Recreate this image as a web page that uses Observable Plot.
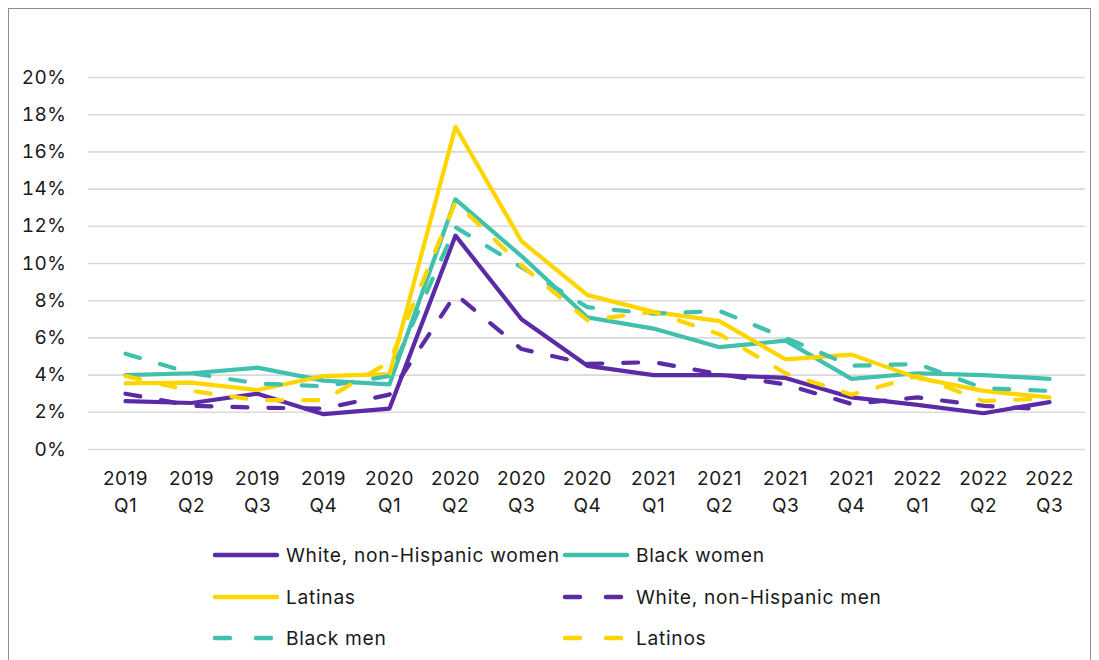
<!DOCTYPE html>
<html>
<head>
<meta charset="utf-8">
<script src="https://cdn.jsdelivr.net/npm/d3@7"></script>
<script src="https://cdn.jsdelivr.net/npm/@observablehq/plot@0.6"></script>
<style>
  html, body { margin: 0; padding: 0; background: #fff; }
  body { width: 1099px; height: 660px; position: relative; overflow: hidden; font-family: Inter, Roboto, sans-serif; }
  #frame { position: absolute; left: 8px; top: 8px; width: 1083px; height: 700px; border: 1px solid #8c8c8c; box-sizing: border-box; }
  #chart { position: absolute; left: 0; top: 0; }
  .leg { position: absolute; display: flex; align-items: center; font-size: 19.2px; letter-spacing: 0.7px; color: #1a1a1a; white-space: nowrap; }
  .leg svg { margin-right: 6px; }
</style>
</head>
<body>
<div id="frame"></div>
<div id="chart"></div>
<div id="legend"></div>
<script>
const quarters = ["2019 Q1","2019 Q2","2019 Q3","2019 Q4","2020 Q1","2020 Q2","2020 Q3","2020 Q4","2021 Q1","2021 Q2","2021 Q3","2021 Q4","2022 Q1","2022 Q2","2022 Q3"];
const whiteWomen = [2.6, 2.5, 3.0, 1.9, 2.2, 11.5, 7.0, 4.5, 4.0, 4.0, 3.85, 2.8, 2.4, 1.95, 2.55];
const blackWomen = [4.0, 4.1, 4.4, 3.7, 3.5, 13.45, 10.4, 7.1, 6.5, 5.5, 5.85, 3.8, 4.1, 4.0, 3.8];
const latinas    = [3.55, 3.6, 3.2, 3.95, 4.05, 17.35, 11.2, 8.3, 7.4, 6.9, 4.85, 5.1, 3.85, 3.15, 2.8];
const whiteMen   = [3.0, 2.35, 2.25, 2.2, 2.95, 8.35, 5.4, 4.6, 4.7, 4.05, 3.5, 2.45, 2.8, 2.35, 2.15];
const blackMen   = [5.15, 4.1, 3.55, 3.4, 3.95, 11.95, 9.8, 7.65, 7.3, 7.45, 6.0, 4.5, 4.6, 3.3, 3.15];
const latinos    = [3.95, 3.15, 2.65, 2.65, 4.7, 13.3, 9.9, 6.95, 7.4, 6.2, 4.1, 2.95, 3.95, 2.6, 2.75];
const yTicks = [0, 2, 4, 6, 8, 10, 12, 14, 16, 18, 20];

const purple = "#5b2aa5", teal = "#41c1ad", yellow = "#ffd500";
const dash = "15,21";
const series = [
  {name: "White, non-Hispanic women", values: whiteWomen, color: purple, dashed: false},
  {name: "Black women", values: blackWomen, color: teal, dashed: false},
  {name: "Latinas", values: latinas, color: yellow, dashed: false},
  {name: "White, non-Hispanic men", values: whiteMen, color: purple, dashed: true},
  {name: "Black men", values: blackMen, color: teal, dashed: true},
  {name: "Latinos", values: latinos, color: yellow, dashed: true}
];

const lineMarks = series.map(s => Plot.line(
  quarters.map((q, i) => ({q, v: s.values[i]})),
  {x: "q", y: "v", stroke: s.color, strokeWidth: 4.2, strokeLinecap: "round", strokeLinejoin: "round",
   strokeDasharray: s.dashed ? dash : null}
));

const chart = Plot.plot({
  width: 1099,
  height: 530,
  marginLeft: 88,
  marginRight: 14,
  marginTop: 77,
  marginBottom: 81,
  style: {fontFamily: "Inter, Roboto, sans-serif", fontSize: "19px", letterSpacing: "0.5px", color: "#1a1a1a", background: "transparent"},
  x: {type: "point", domain: quarters, padding: 0.5},
  y: {domain: [0, 20]},
  marks: [
    Plot.gridY(yTicks, {stroke: "#d9d9d9", strokeOpacity: 1, strokeWidth: 1.6}),
    Plot.axisY(yTicks, {tickSize: 0, tickPadding: 22, tickFormat: d => d + "%", fontSize: 19, label: null}),
    Plot.axisX(quarters, {tickSize: 0, tickPadding: 16, tickFormat: d => d.replace(" ", "\n"), lineHeight: 1.42, fontSize: 19, label: null}),
    ...lineMarks
  ]
});
document.getElementById("chart").appendChild(chart);

// Legend
const legendPos = [
  {x: 215, y: 555}, {x: 565, y: 555},
  {x: 215, y: 597}, {x: 565, y: 597},
  {x: 215, y: 638}, {x: 565, y: 638}
];
const legend = document.getElementById("legend");
series.forEach((s, i) => {
  const p = legendPos[i];
  const div = document.createElement("div");
  div.className = "leg";
  div.style.left = (p.x - 3) + "px";
  div.style.top = (p.y - 13) + "px";
  div.style.height = "26px";
  div.innerHTML = `<svg width="68" height="10"><line x1="3" x2="65" y1="5" y2="5" stroke="${s.color}" stroke-width="4.5" stroke-linecap="round" ${s.dashed ? 'stroke-dasharray="15,26"' : ''}/></svg><span>${s.name}</span>`;
  legend.appendChild(div);
});
</script>
</body>
</html>
